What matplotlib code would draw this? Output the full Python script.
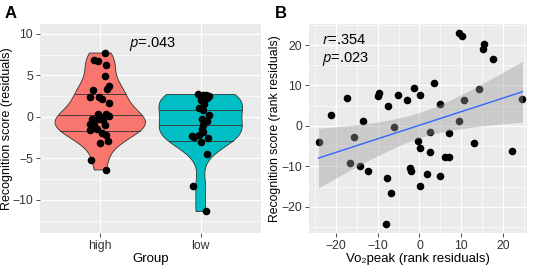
import numpy as np
import matplotlib
matplotlib.use("Agg")
import matplotlib.pyplot as plt

plt.rcParams['font.family'] = ['Liberation Sans', 'DejaVu Sans']
plt.rcParams['mathtext.fontset'] = 'custom'
plt.rcParams['mathtext.it'] = 'Open Sans:italic'
plt.rcParams['mathtext.rm'] = 'Open Sans'

# ---- panel A data ----
groups = ["high", "low"]
high_y = [7.7, 6.8, 6.7, 6.2, 4.9, 3.7, 3.4, 3.3, 2.4, 2.4, 2.2, 1.7, 0.4, 0.3, 0.1,
          0.0, -0.2, -0.3, -0.4, -0.8, -1.0, -1.0, -1.4, -1.4, -1.6, -1.9, -2.2,
          -2.9, -3.2, -5.2, -6.4]
high_jit = [0.05, -0.06, -0.02, 0.06, 0.05, 0.09, 0.07, -0.07, -0.1, -0.01, 0.02, 0.09,
            -0.02, 0.06, 0.09, 0.01, -0.08, -0.02, 0.03, -0.1, -0.06, 0.05, -0.09,
            -0.03, -0.1, 0.02, 0.06, 0.08, 0.0, -0.09, 0.06]
low_y = [2.7, 2.6, 2.6, 2.5, 2.3, 2.0, 1.5, 1.1, 0.8, 0.2, -0.2, -0.5, -1.0, -1.4, -1.8,
         -2.3, -2.4, -2.2, -2.6, -3.0, -4.5, -8.3, -11.4]
low_jit = [-0.03, 0.02, 0.05, 0.08, 0.06, 0.0, 0.03, -0.02, 0.02, 0.08, 0.01, 0.06, 0.02,
           0.01, 0.02, -0.09, -0.07, -0.02, 0.07, 0.0, 0.06, -0.08, 0.05]
colors = ["#F8766D", "#00BFC4"]

# ---- panel B data ----
vo2 = [-24.2, -21.2, -17.4, -15.8, -16.7, -14.3, -13.6, -12.3, -10.0, -9.6, -7.5, -6.2,
       -5.1, -3.1, -1.2, 0.1, -0.4, 0.1, -2.2, -2.1, -7.7, -6.9, -8.0, 0.2, 1.8, 2.5,
       2.6, 3.5, 5.0, 5.0, 6.2, 7.0, 7.0, 9.4, 9.4, 10.2, 10.8, 13.2, 14.2, 15.2, 15.4,
       17.7, 22.3, 24.7]
recog = [-4.0, 2.7, 6.8, -2.8, -9.1, -9.9, 1.3, -11.1, 7.5, 8.1, 4.8, -0.4,
         7.7, 6.4, 9.3, 7.7, -3.7, -5.4, -10.5, -11.1, -12.9, -16.7, -24.3, -14.8, -11.9, -6.4,
         -1.5, 10.6, 5.4, -12.5, -7.6, -7.6, -1.8, 1.2, 22.9, 22.3, 6.3, -4.2, 9.1, 19.0, 20.2,
         16.5, -6.1, 6.7]

BG = "#EBEBEB"
TICKC = "#333333"


def style(ax):
    ax.set_facecolor(BG)
    for s in ax.spines.values():
        s.set_visible(False)
    ax.tick_params(colors="#333333", labelcolor=TICKC, labelsize=8.8, length=3, width=0.6, pad=2)
    ax.grid(which="major", color="white", lw=0.9)
    ax.grid(which="minor", color="white", lw=0.45)
    ax.set_axisbelow(True)


def kde(y, grid):
    y = np.asarray(y)
    n = len(y)
    iqr = np.subtract(*np.percentile(y, [75, 25]))
    bw = 0.9 * min(y.std(ddof=1), iqr / 1.34) * n ** -0.2
    d = np.exp(-0.5 * ((grid[:, None] - y[None, :]) / bw) ** 2).sum(1)
    return d / (n * bw * np.sqrt(2 * np.pi))


fig = plt.figure(figsize=(5.36, 2.66), dpi=100)
axA = fig.add_axes([40 / 536, 1 - 233 / 266, 221 / 536, 209 / 266])
axB = fig.add_axes([309 / 536, 1 - 233 / 266, 218 / 536, 209 / 266])

# ---- panel A ----
style(axA)
data = [high_y, low_y]
jit = [high_jit, low_jit]
dens = []
for ys in data:
    g = np.linspace(min(ys), max(ys), 512)
    dens.append((g, kde(ys, g)))
dmax = max(d.max() for _, d in dens)
for i, (g, d) in enumerate(dens):
    pos = i + 1
    w = 0.45 * d / dmax
    xs = np.concatenate([pos - w, (pos + w)[::-1]])
    yy = np.concatenate([g, g[::-1]])
    axA.fill(xs, yy, facecolor=colors[i], edgecolor="#333333", lw=0.6, zorder=2)
    cum = np.cumsum(d)
    cum = cum / cum[-1]
    for q in [0.25, 0.5, 0.75]:
        yq = np.interp(q, cum, g)
        wq = 0.45 * np.interp(yq, g, d) / dmax
        axA.plot([pos - wq, pos + wq], [yq, yq], color="#333333", lw=0.6, zorder=3)
    axA.scatter(pos + np.array(jit[i]), data[i], s=30, color="black", zorder=4, lw=0)

axA.set_xlim(0.4, 2.6)
axA.set_ylim(-14, 11.2)
axA.set_xticks([1, 2])
axA.set_xticklabels(groups)
axA.set_yticks([-10, -5, 0, 5, 10])
axA.set_yticks([-12.5, -7.5, -2.5, 2.5, 7.5], minor=True)
axA.tick_params(which="minor", length=0)
axA.set_xlabel("Group", fontsize=9.5, labelpad=1)
axA.set_ylabel("Recognition score (residuals)", fontsize=9, va="center")
axA.yaxis.set_label_coords(-0.148, 0.5)
axA.text(1.52, 8.8, "$p$=.043", fontsize=10.5, ha="center", va="center")

# ---- panel B ----
style(axB)
x = np.array(vo2)
y = np.array(recog)
axB.scatter(x, y, s=30, color="black", zorder=2, lw=0)
n = len(x)
b, a = np.polyfit(x, y, 1)
xg = np.linspace(x.min(), x.max(), 80)
yhat = a + b * xg
resid = y - (a + b * x)
s = np.sqrt((resid ** 2).sum() / (n - 2))
se = s * np.sqrt(1 / n + (xg - x.mean()) ** 2 / ((x - x.mean()) ** 2).sum())
t = 2.018
axB.fill_between(xg, yhat - t * se, yhat + t * se, color="#999999", alpha=0.4, lw=0, zorder=3)
axB.plot(xg, yhat, color="#3366FF", lw=1, zorder=4)
axB.set_xlim(-26.5, 25.8)
axB.set_ylim(-26.5, 25.2)
axB.set_xticks([-20, -10, 0, 10, 20])
axB.set_yticks([-20, -10, 0, 10, 20])
axB.set_xticks([-25, -15, -5, 5, 15, 25], minor=True)
axB.set_yticks([-25, -15, -5, 5, 15, 25], minor=True)
axB.tick_params(which="minor", length=0)
axB.set_xlabel("Vo₂peak (rank residuals)", fontsize=9.5, labelpad=1)
axB.set_ylabel("Recognition score (rank residuals)", fontsize=8.8, va="center")
axB.yaxis.set_label_coords(-0.158, 0.5)
axB.text(-23.5, 21.3, "$r$=.354", fontsize=10.5, ha="left", va="center")
axB.text(-23.5, 16.6, "$p$=.023", fontsize=10.5, ha="left", va="center")

fig.text(5 / 536, 1 - 13 / 266, "A", fontsize=12, fontweight="bold", va="center")
fig.text(275 / 536, 1 - 13 / 266, "B", fontsize=12, fontweight="bold", va="center")

fig.savefig("out.png", dpi=100)
